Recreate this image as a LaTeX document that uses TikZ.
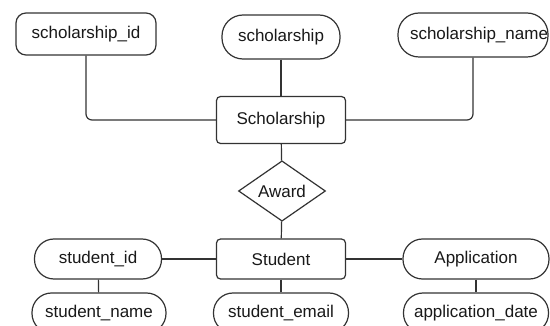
\documentclass[tikz,border=0pt]{standalone}
\usepackage{fontspec}
\setmainfont{Liberation Sans}
\usetikzlibrary{positioning, shapes.geometric}
\tikzset{
  entity/.style={
    draw,
    rectangle,
    rounded corners=4pt,
    minimum height=40pt,
    minimum width=129pt,
    align=center
  },
  attr/.style={
    draw,
    rectangle,
    rounded corners=19.5pt,
    minimum height=40pt,
    align=center
  },
  link/.style={-, rounded corners=6pt}
}

\begin{document}
\begin{tikzpicture}[
  x=1pt, y=-1pt,
  line width=1.2pt, draw=black!80,
  every node/.style={font=\fontsize{17}{20}\selectfont, text=black!90},
  relation/.style={draw, diamond, inner sep=0pt,
                   minimum width=87pt, minimum height=56pt}
]
\clip (0,0) rectangle (550,326);
\fill[white] (0,0) rectangle (550,326);

%% ---- Scholarship side ----
\node[attr, rounded corners=10pt, minimum width=140pt, minimum height=42pt]
  (schid) at (86,34) {scholarship\_id};
\node[attr, minimum width=118pt, minimum height=44pt, rounded corners=21pt]
  (schattr) at (281,37) {scholarship};
\node[attr, minimum width=140pt, minimum height=44pt, rounded corners=21pt,
      inner xsep=0pt]
  (schname) at (473,35) {\hspace*{12pt}scholarship\_name};
\node[entity, minimum height=47pt] (scholarship) at (281,120) {Scholarship};

\draw[link] (schid.south) |- (scholarship.west);
\draw[link] (schname.south) |- (scholarship.east);
\draw (schattr) -- (scholarship);

%% ---- relation ----
\node[relation] (award) at (282,191) {Award};

%% ---- Student side ----
\node[entity] (student) at (281,259) {Student};
\node[attr, minimum width=127pt] (stuid) at (98,259) {student\_id};
\node[attr, minimum width=146pt] (appl) at (476,259) {Application};

\node[attr, minimum width=134pt] (stuname)  at (99,313)  {student\_name};
\node[attr, minimum width=135pt] (stuemail) at (281,313) {student\_email};
\node[attr, minimum width=145pt] (appdate)  at (476,313) {application\_date};

\draw (scholarship) -- (award);
\draw (award) -- (student);
\draw (stuid) -- (student);
\draw (student) -- (appl);
\draw (stuid) -- (stuname);
\draw (student) -- (stuemail);
\draw (appl) -- (appdate);

\end{tikzpicture}
\end{document}
